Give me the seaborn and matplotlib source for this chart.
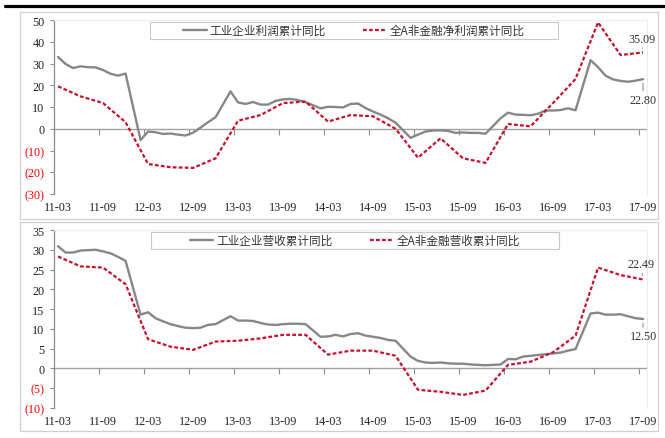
import numpy as np
import pandas as pd
import seaborn as sns
import matplotlib
matplotlib.use("Agg")
import matplotlib.pyplot as plt
from matplotlib.patches import Rectangle
from matplotlib.lines import Line2D

# ---- data -------------------------------------------------------------
# monthly cumulative YoY (January is merged into February, so it is absent)
monthly_dates = [d for d in pd.date_range("2011-03", "2017-09", freq="MS") if d.month != 1]
# quarterly cumulative YoY for non-financial A-share companies
quarter_dates = list(pd.date_range("2011-03", "2017-09", freq="QS-MAR"))

ind_profit = [
    33.0, 29.8, 27.9, 28.7, 28.3, 28.2, 27.0, 25.3, 24.4, 25.4,
    -5.2, -1.3, -1.6, -2.4, -2.2, -2.7, -3.1, -1.8, 0.5, 3.0, 5.3,
    17.2, 12.1, 11.4, 12.3, 11.1, 11.1, 12.8, 13.5, 13.7, 13.2, 12.2,
    9.4, 10.1, 10.0, 9.8, 11.4, 11.6, 9.5, 7.9, 6.5, 4.8, 2.8,
    -4.2, -2.7, -1.3, -0.8, -0.7, -1.0, -1.9, -1.7, -1.9, -1.9, -2.3,
    4.8, 7.4, 6.5, 6.4, 6.2, 6.9, 8.4, 8.4, 8.6, 9.4, 8.5,
    31.5, 28.3, 24.4, 22.7, 22.0, 21.6, 22.1, 22.80,
]
a_profit = [
    19.5, 14.9, 11.8, 3.0,
    -16.2, -17.7, -18.0, -13.6,
    3.7, 6.3, 11.8, 12.5,
    3.3, 6.3, 5.7, 0.0,
    -13.3, -4.4, -13.6, -15.7,
    2.2, 1.1, 11.8, 22.9,
    48.9, 33.9, 35.09,
]
ind_revenue = [
    30.9, 29.3, 29.3, 29.8, 29.9, 30.0, 29.6, 29.1, 28.2, 27.2,
    13.6, 14.2, 12.7, 11.9, 11.2, 10.7, 10.3, 10.2, 10.3, 11.0, 11.2,
    13.2, 12.1, 12.1, 12.0, 11.5, 11.1, 11.0, 11.2, 11.3, 11.3, 11.2,
    8.0, 8.1, 8.5, 8.1, 8.7, 8.9, 8.3, 8.0, 7.7, 7.2, 7.0,
    3.0, 1.9, 1.5, 1.4, 1.5, 1.3, 1.2, 1.2, 1.0, 0.9, 0.8,
    1.0, 2.4, 2.3, 3.0, 3.2, 3.4, 3.6, 3.8, 4.0, 4.5, 4.9,
    13.9, 14.1, 13.6, 13.6, 13.7, 13.2, 12.7, 12.50,
]
a_revenue = [
    28.3, 25.8, 25.5, 21.3,
    7.4, 5.5, 4.7, 6.8,
    7.0, 7.6, 8.5, 8.5,
    3.5, 4.5, 4.5, 3.2,
    -5.4, -5.9, -6.7, -5.6,
    0.9, 1.7, 4.1, 8.3,
    25.5, 23.6, 22.49,
]

tick_labels = ["11-03", "11-09", "12-03", "12-09", "13-03", "13-09", "14-03",
               "14-09", "15-03", "15-09", "16-03", "16-09", "17-03", "17-09"]

labels_profit = ["工业企业利润累计同比", "全A非金融净利润累计同比"]
labels_revenue = ["工业企业营收累计同比", "全A非金融营收累计同比"]

# ---- helpers ----------------------------------------------------------
def month_index(d):
    return (d.year - 2011) * 12 + d.month - 3

def label_index(s):
    yy, mm = s.split("-")
    return (int(yy) - 11) * 12 + int(mm) - 3

df_profit_m = pd.DataFrame({"x": [month_index(d) for d in monthly_dates], "y": ind_profit})
df_profit_q = pd.DataFrame({"x": [month_index(d) for d in quarter_dates], "y": a_profit})
df_rev_m = pd.DataFrame({"x": [month_index(d) for d in monthly_dates], "y": ind_revenue})
df_rev_q = pd.DataFrame({"x": [month_index(d) for d in quarter_dates], "y": a_revenue})

sns.set_theme(style="white")
plt.rcParams["font.family"] = ["Liberation Serif", "DejaVu Sans"]

GRAY = "#878787"
RED = "#c8102e"
AXIS = "#8c8c8c"
CJK = ["Noto Sans CJK SC", "DejaVu Sans"]

W, H = 665, 439
fig = plt.figure(figsize=(W / 100, H / 100), dpi=100)

def fx(px):
    return px / W

def fy(py):
    return 1 - py / H

# decorative rule at the top and the two panel frames
fig.add_artist(Line2D([fx(5), 1.0], [fy(6.5), fy(6.5)], color="black", lw=2.3))
fig.add_artist(Rectangle((fx(20), fy(220)), fx(658) - fx(20), fy(13) - fy(220),
                         fill=False, ec="#cfcfcf", lw=0.9))
fig.add_artist(Rectangle((fx(20), fy(432)), fx(658) - fx(20), fy(223) - fy(432),
                         fill=False, ec="#cfcfcf", lw=0.9))

ax_l, ax_r = 54.3, 646.8
ax1 = fig.add_axes([fx(ax_l), fy(195), fx(ax_r) - fx(ax_l), fy(21) - fy(195)])
ax2 = fig.add_axes([fx(ax_l), fy(409), fx(ax_r) - fx(ax_l), fy(231) - fy(409)])


def draw_panel(ax, dfm, dfq, labels, ylim, ystep, legend_box, notes):
    sns.lineplot(data=dfm, x="x", y="y", ax=ax, color=GRAY, lw=1.7,
                 label=labels[0], estimator=None)
    sns.lineplot(data=dfq, x="x", y="y", ax=ax, color=RED, lw=1.6,
                 linestyle=(0, (1.7, 1.0)), label=labels[1], estimator=None)
    ax.set_xlim(-0.5, 78.5)
    ax.set_ylim(*ylim)
    ax.set_xlabel("")
    ax.set_ylabel("")
    ax.axhline(0, color="#a0a0a0", lw=1.0, zorder=1)

    # y axis: negatives in parentheses and red
    yt = np.arange(ylim[0], ylim[1] + ystep / 2, ystep)
    ax.set_yticks(yt)
    ax.set_yticklabels([f"({abs(v):.0f})" if v < 0 else f"{v:.0f}" for v in yt])
    for v, t in zip(yt, ax.get_yticklabels()):
        t.set_color("#ff0000" if v < 0 else "#222222")
    ax.tick_params(axis="y", left=True, length=3, width=0.8, color=AXIS,
                   labelsize=8.7, pad=4)

    # x labels sit at the bottom, tick marks sit on the zero line
    ax.set_xticks([label_index(s) for s in tick_labels])
    ax.set_xticklabels(tick_labels)
    ax.tick_params(axis="x", bottom=False, length=0, labelsize=8.7, pad=5,
                   labelcolor="#222222")
    zero_pos = (0 - ylim[0]) / (ylim[1] - ylim[0])
    sec = ax.secondary_xaxis(zero_pos)
    sec.set_xticks([label_index(s) - 0.5 for s in tick_labels])
    sec.xaxis.set_ticks_position("bottom")
    sec.tick_params(axis="x", direction="out", length=4, width=0.8, color=AXIS,
                    labelbottom=False, labeltop=False)
    for s in sec.spines.values():
        s.set_visible(False)

    for side, sp in ax.spines.items():
        if side == "left":
            sp.set_color(AXIS)
            sp.set_linewidth(0.9)
        elif side == "bottom":
            sp.set_visible(False)
        else:
            sp.set_color("#ececec")
            sp.set_linewidth(0.8)

    # legend: frame of fixed size, entries centred inside it
    x0, y0, w, h = legend_box
    ax.add_patch(Rectangle((x0, y0), w, h, transform=ax.transAxes, fill=True,
                           fc="white", ec="#c8c8c8", lw=0.8, zorder=4))
    handles, labs = ax.get_legend_handles_labels()
    leg = ax.legend(handles, labs, loc="center",
                    bbox_to_anchor=(x0 + w / 2, y0 + h / 2),
                    ncol=2, frameon=False, borderaxespad=0, borderpad=0,
                    handlelength=2.0, handletextpad=0.25, columnspacing=3.2,
                    prop={"family": CJK, "size": 8.4})
    leg.set_zorder(5)
    for t in leg.get_texts():
        t.set_color("#333333")

    # end-of-series value labels
    for df, (dx, dy) in notes:
        x_end, y_end = df["x"].iloc[-1], df["y"].iloc[-1]
        ax.annotate(f"{y_end:.2f}", xy=(x_end, y_end), xytext=(dx, dy),
                    textcoords="offset points", ha="center", va="center",
                    fontsize=8.7, color="#333333", annotation_clip=False,
                    arrowprops=dict(arrowstyle="-", color="#7f7f7f", lw=0.7,
                                    shrinkA=0, shrinkB=3))


def box(ax_top, ax_bot, x0, x1, y0, y1):
    h = ax_bot - ax_top
    w = ax_r - ax_l
    return ((x0 - ax_l) / w, (ax_bot - y1) / h, (x1 - x0) / w, (y1 - y0) / h)


draw_panel(ax1, df_profit_m, df_profit_q, labels_profit, (-30, 50), 10,
           box(21, 195, 150, 558, 23, 40),
           [(df_profit_q, (-0.7, 10)), (df_profit_m, (0, -15))])
draw_panel(ax2, df_rev_m, df_rev_q, labels_revenue, (-10, 35), 5,
           box(231, 409, 150.7, 559, 233, 250),
           [(df_rev_q, (-1.4, 11)), (df_rev_m, (0, -12.5))])

fig.savefig("out.png", dpi=100)
